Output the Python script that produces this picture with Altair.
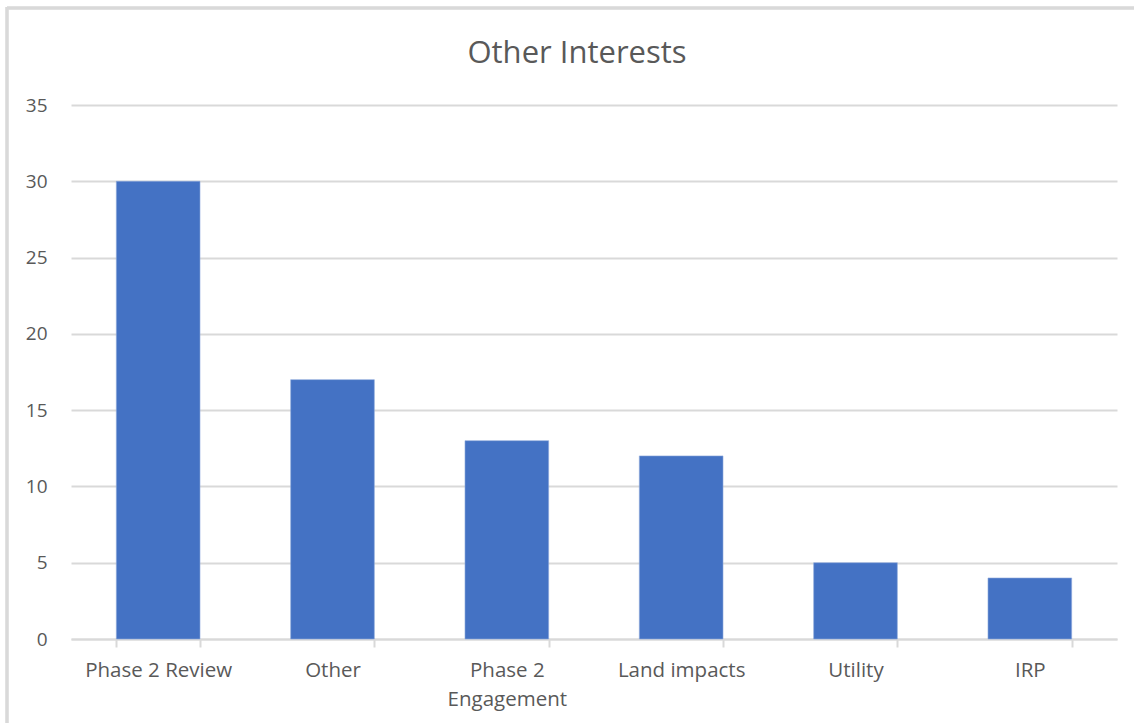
import altair as alt
import pandas as pd

# Survey responses by topic
categories = ["Phase 2 Review", "Other", "Phase 2 Engagement", "Land impacts", "Utility", "IRP"]
counts = [30, 17, 13, 12, 5, 4]
chart_title = "Other Interests"

df = pd.DataFrame({"topic": categories, "count": counts})

W, H = 1046, 534
FONT = "Open Sans"
TEXT = "#595959"
GRID = "#D9D9D9"

x_enc = alt.X(
    "topic:N",
    sort=categories,
    scale=alt.Scale(paddingInner=0.52, paddingOuter=0.26),
    axis=alt.Axis(
        title=None,
        labelAngle=0,
        labelFont=FONT,
        labelFontSize=20.5,
        labelColor=TEXT,
        labelPadding=13,
        labelLineHeight=29,
        labelExpr="datum.value == 'Phase 2 Engagement' ? ['Phase 2', 'Engagement'] : datum.label",
        domainColor=GRID,
        domainWidth=2,
        tickColor=GRID,
        tickWidth=2,
        tickSize=8,
        tickBand="extent",
        grid=False,
    ),
)

y_enc = alt.Y(
    "count:Q",
    scale=alt.Scale(domain=[0, 35], nice=False),
    axis=alt.Axis(
        title=None,
        values=[0, 5, 10, 15, 20, 25, 30, 35],
        labelFont=FONT,
        labelFontSize=19,
        labelColor=TEXT,
        labelPadding=24,
        domain=False,
        ticks=False,
        grid=True,
        gridColor=GRID,
        gridWidth=2,
    ),
)

bars = alt.Chart(df).mark_bar(color="#4472C4", stroke="#8FAADC", strokeWidth=0.6).encode(
    x=x_enc, y=y_enc
)

# Chart-area frame: top and left edges (the others run off the canvas)
frame_top = alt.Chart(df).mark_rule(color=GRID, strokeWidth=2.5).encode(
    x=alt.value(-64),
    x2=alt.value(W + 150),
    y=alt.value(-97),
)
frame_left = alt.Chart(df).mark_rule(color=GRID, strokeWidth=2.5).encode(
    x=alt.value(-64),
    y=alt.value(-98),
    y2=alt.value(H + 120),
)

# Chart heading, centred over the chart area
heading = alt.Chart(pd.DataFrame({"t": [chart_title]})).mark_text(
    font=FONT,
    fontSize=31,
    color=TEXT,
    align="center",
    baseline="alphabetic",
).encode(
    text="t:N",
    x=alt.value(W / 2 - 17),
    y=alt.value(-42),
)

chart = (
    alt.layer(frame_top, frame_left, bars, heading)
    .properties(
        width=W,
        height=H,
        autosize=alt.AutoSizeParams(type="none"),
        padding={"left": 71, "top": 105, "right": 17, "bottom": 84},
    )
    .configure(background="white")
    .configure_view(stroke="transparent", strokeWidth=0)
)

chart.save("out.html", embed_options={"renderer": "svg", "actions": False})
